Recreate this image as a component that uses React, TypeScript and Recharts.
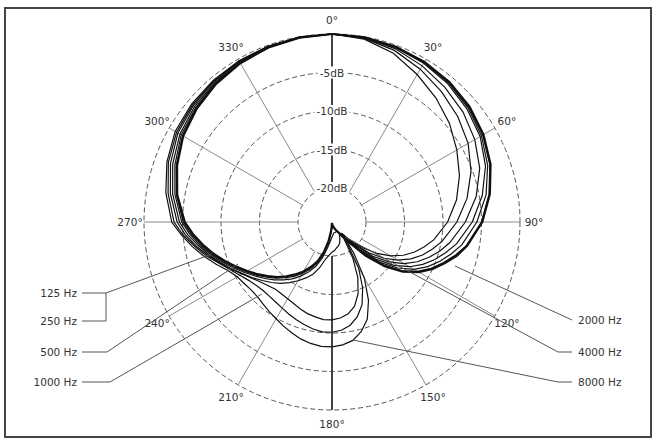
import React from "react";
import { RadarChart, Radar, PolarGrid, PolarAngleAxis, PolarRadiusAxis } from "recharts";

// compass angle of each sample (deg, clockwise from front); finer at the rear
const angles = [
  0, 10, 20, 30, 40, 50, 60, 70, 80, 90, 100,
  105, 110, 115, 120, 125, 130, 135, 140, 145, 150,
  155, 160, 165, 170, 175, 180, 185, 190, 195, 200,
  205, 210, 215, 220, 225, 230, 235, 240, 245, 250,
  255, 260, 265,
  270, 280, 290, 300, 310, 320, 330, 340, 350,
];

// relative level in dB for each frequency
const hz125 = [
  0, -0.05, -0.2, -0.4, -0.7, -1.1, -1.7, -2.5, -3.6, -4.9, -6.6,
  -7.6, -8.8, -10.0, -11.4, -13.2, -15.5, -18.2, -21, -22.3, -23,
  -23.3, -23.6, -23.8, -24, -24.2, -24.3, -23.4, -22, -20.4, -19,
  -18, -17, -16.1, -15.2, -14.3, -13.5, -12.6, -11.7, -10.7, -9.6,
  -8.5, -7.4, -6.3,
  -5.3, -4.0, -3.0, -2.1, -1.5, -1.0, -0.6, -0.3, -0.1,
];
const hz250 = [
  0, -0.05, -0.2, -0.45, -0.75, -1.2, -1.8, -2.6, -3.7, -5.0, -6.7,
  -7.8, -9.0, -10.2, -11.6, -13.4, -15.7, -18.4, -21, -22.2, -23,
  -23.2, -23.5, -23.6, -23.8, -23.9, -24, -23.0, -21.6, -20.1, -18.7,
  -17.7, -16.7, -15.8, -15.0, -14.1, -13.3, -12.4, -11.5, -10.5, -9.4,
  -8.3, -7.2, -6.1,
  -5.1, -3.9, -2.9, -2.0, -1.4, -0.95, -0.55, -0.28, -0.1,
];
const hz500 = [
  0, -0.05, -0.25, -0.5, -0.85, -1.35, -2.0, -2.9, -4.1, -5.6, -7.3,
  -8.4, -9.5, -10.7, -12.1, -14.0, -16.2, -18.9, -21.5, -22.6, -23,
  -23.1, -23, -23, -23, -22.8, -22.5, -21.9, -21, -19.6, -18.3,
  -17.3, -16.3, -15.4, -14.6, -13.8, -13, -12.2, -11.3, -10.3, -9.2,
  -8.1, -7.0, -5.9,
  -4.9, -3.7, -2.7, -1.8, -1.3, -0.85, -0.5, -0.25, -0.08,
];
const hz1000 = [
  0, -0.1, -0.3, -0.6, -1.0, -1.55, -2.2, -3.2, -4.6, -6.2, -8.0,
  -9.1, -10.2, -11.4, -12.8, -14.6, -16.8, -19.4, -22, -22.6, -22.5,
  -22, -21.5, -21.2, -21, -20.7, -20.5, -20.1, -19.5, -18.3, -17.2,
  -16.4, -15.6, -14.8, -14.0, -13.3, -12.6, -11.8, -11.0, -10.0, -9.0,
  -7.9, -6.8, -5.6,
  -4.6, -3.4, -2.4, -1.6, -1.1, -0.75, -0.45, -0.22, -0.07,
];
const hz2000 = [
  0, -0.15, -0.45, -1.0, -1.6, -2.2, -3.0, -4.0, -5.4, -7.1, -8.9,
  -9.9, -11.0, -12.2, -13.6, -15.4, -17.5, -20.2, -22.5, -21.6, -19,
  -16.5, -14.5, -13.1, -12.3, -11.9, -11.7, -11.7, -11.9, -12.1, -12.4,
  -12.7, -12.9, -13.0, -13.0, -12.7, -12.3, -11.7, -10.9, -10.0, -8.9,
  -7.7, -6.5, -5.3,
  -4.3, -3.1, -2.1, -1.3, -0.9, -0.6, -0.35, -0.18, -0.06,
];
const hz4000 = [
  0, -0.2, -0.7, -1.5, -2.3, -3.1, -4.0, -5.2, -6.6, -8.2, -9.9,
  -10.9, -11.9, -13.1, -14.5, -16.2, -18.2, -20.6, -22.5, -20.8, -17.5,
  -15.0, -13, -11.7, -10.8, -10.3, -10.1, -10.1, -10.3, -10.6, -10.9,
  -11.2, -11.5, -11.7, -11.8, -11.8, -11.6, -11.2, -10.6, -9.8, -8.8,
  -7.5, -6.3, -5.0,
  -3.9, -2.8, -1.8, -1.1, -0.75, -0.5, -0.3, -0.15, -0.05,
];
const hz8000 = [
  0, -0.3, -1.1, -2.3, -3.4, -4.5, -5.7, -6.8, -8.0, -9.4, -11.0,
  -12.0, -13.0, -14.2, -15.6, -17.3, -19.2, -21.2, -22, -19.5, -16,
  -13.2, -11, -9.7, -8.8, -8.4, -8.2, -8.2, -8.4, -8.7, -9.1,
  -9.5, -9.9, -10.2, -10.5, -10.7, -10.7, -10.5, -10.2, -9.5, -8.4,
  -7.2, -6.0, -4.8,
  -3.6, -2.5, -1.6, -0.9, -0.6, -0.4, -0.25, -0.12, -0.04,
];

const angleTicks = [0, 30, 60, 90, 120, 150, 180, 210, 240, 270, 300, 330];
const dbTicks = [-20, -15, -10, -5, 0];
const leftLabels = ["125 Hz", "250 Hz", "500 Hz", "1000 Hz"];
const rightLabels = ["2000 Hz", "4000 Hz", "8000 Hz"];

const data = angles.map((angle, i) => ({
  angle,
  hz125: hz125[i],
  hz250: hz250[i],
  hz500: hz500[i],
  hz1000: hz1000[i],
  hz2000: hz2000[i],
  hz4000: hz4000[i],
  hz8000: hz8000[i],
}));

const series = [
  { key: "hz8000", width: 1.2 },
  { key: "hz4000", width: 1.2 },
  { key: "hz2000", width: 1.2 },
  { key: "hz1000", width: 1.2 },
  { key: "hz500", width: 1.2 },
  { key: "hz250", width: 1.3 },
  { key: "hz125", width: 2.2 },
];

const font = "'DejaVu Sans', Verdana, sans-serif";
const ink = "#333";

function AngleTick(props: any) {
  const { x, y, payload } = props;
  return (
    <text x={x} y={y} textAnchor="middle" dominantBaseline="central" fontSize={10.5} fill={ink} fontFamily={font}>
      {`${payload.value}°`}
    </text>
  );
}

function DbTick(props: any) {
  const { x, y, payload } = props;
  if (payload.value === 0) return <g />;
  const label = `${payload.value}dB`;
  const w = label.length * 6.2 + 4;
  return (
    <g>
      <rect x={x - w / 2} y={y - 6} width={w} height={12} fill="#fff" />
      <text x={x} y={y} textAnchor="middle" dominantBaseline="central" fontSize={10.5} fill={ink} fontFamily={font}>
        {label}
      </text>
    </g>
  );
}

function Notes() {
  const txt = { fontSize: 10.5, fill: ink, fontFamily: font } as const;
  const ln = { stroke: "#555", strokeWidth: 1, fill: "none" } as const;
  const leftY = [293, 321, 352, 382];
  const rightY = [320, 352, 382];
  return (
    <svg width={654} height={439} style={{ position: "absolute", left: 0, top: 0, pointerEvents: "none" }}>
      <rect x={5} y={8} width={646} height={429} fill="none" stroke="#444" strokeWidth={2} />
      {leftLabels.map((t, i) => (
        <text key={t} x={77} y={leftY[i]} textAnchor="end" dominantBaseline="central" {...txt}>
          {t}
        </text>
      ))}
      {rightLabels.map((t, i) => (
        <text key={t} x={578} y={rightY[i]} dominantBaseline="central" {...txt}>
          {t}
        </text>
      ))}
      <polyline points="82,293 106,293 106,321 82,321" {...ln} />
      <line x1={106} y1={293} x2={212} y2={254} {...ln} />
      <polyline points="82,352 107,352 238,264" {...ln} />
      <polyline points="82,382 110,382 262,294" {...ln} />
      <line x1={572} y1={320} x2={455} y2={266} {...ln} />
      <polyline points="572,352 558,352 345,237" {...ln} />
      <polyline points="572,382 558,382 353,340" {...ln} />
    </svg>
  );
}

export default function App() {
  return (
    <div style={{ position: "absolute", left: 0, top: 0, width: 654, height: 439, background: "#fff" }}>
      <RadarChart
        width={654}
        height={439}
        data={data}
        cx={332}
        cy={222}
        innerRadius={34}
        outerRadius={188}
        startAngle={90}
        endAngle={-270}
        margin={{ top: 0, right: 0, bottom: 0, left: 0 }}
      >
        <PolarGrid gridType="circle" radialLines={false} stroke="#555" strokeDasharray="5 3" />
        <PolarGrid gridType="circle" polarRadius={[]} stroke="#8a8a8a" />
        <PolarAngleAxis
          dataKey="angle"
          type="number"
          domain={[0, 360]}
          ticks={angleTicks}
          tick={<AngleTick />}
          tickLine={false}
          tickSize={14}
          axisLine={false}
        />
        <PolarRadiusAxis
          angle={90}
          domain={[-20, 0]}
          ticks={dbTicks}
          allowDataOverflow
          axisLine={{ stroke: "#1a1a1a", strokeWidth: 1.5 }}
          tickLine={false}
          tick={<DbTick />}
        />
        <PolarRadiusAxis
          radiusAxisId="rear"
          angle={-90}
          domain={[-20, 0]}
          allowDataOverflow
          axisLine={{ stroke: "#1a1a1a", strokeWidth: 1.5 }}
          tickLine={false}
          tick={false}
        />
        {series.map((s) => (
          <Radar
            key={s.key}
            dataKey={s.key}
            stroke="#111"
            strokeWidth={s.width}
            fill="none"
            fillOpacity={0}
            dot={false}
            isAnimationActive={false}
          />
        ))}
      </RadarChart>
      <Notes />
    </div>
  );
}
